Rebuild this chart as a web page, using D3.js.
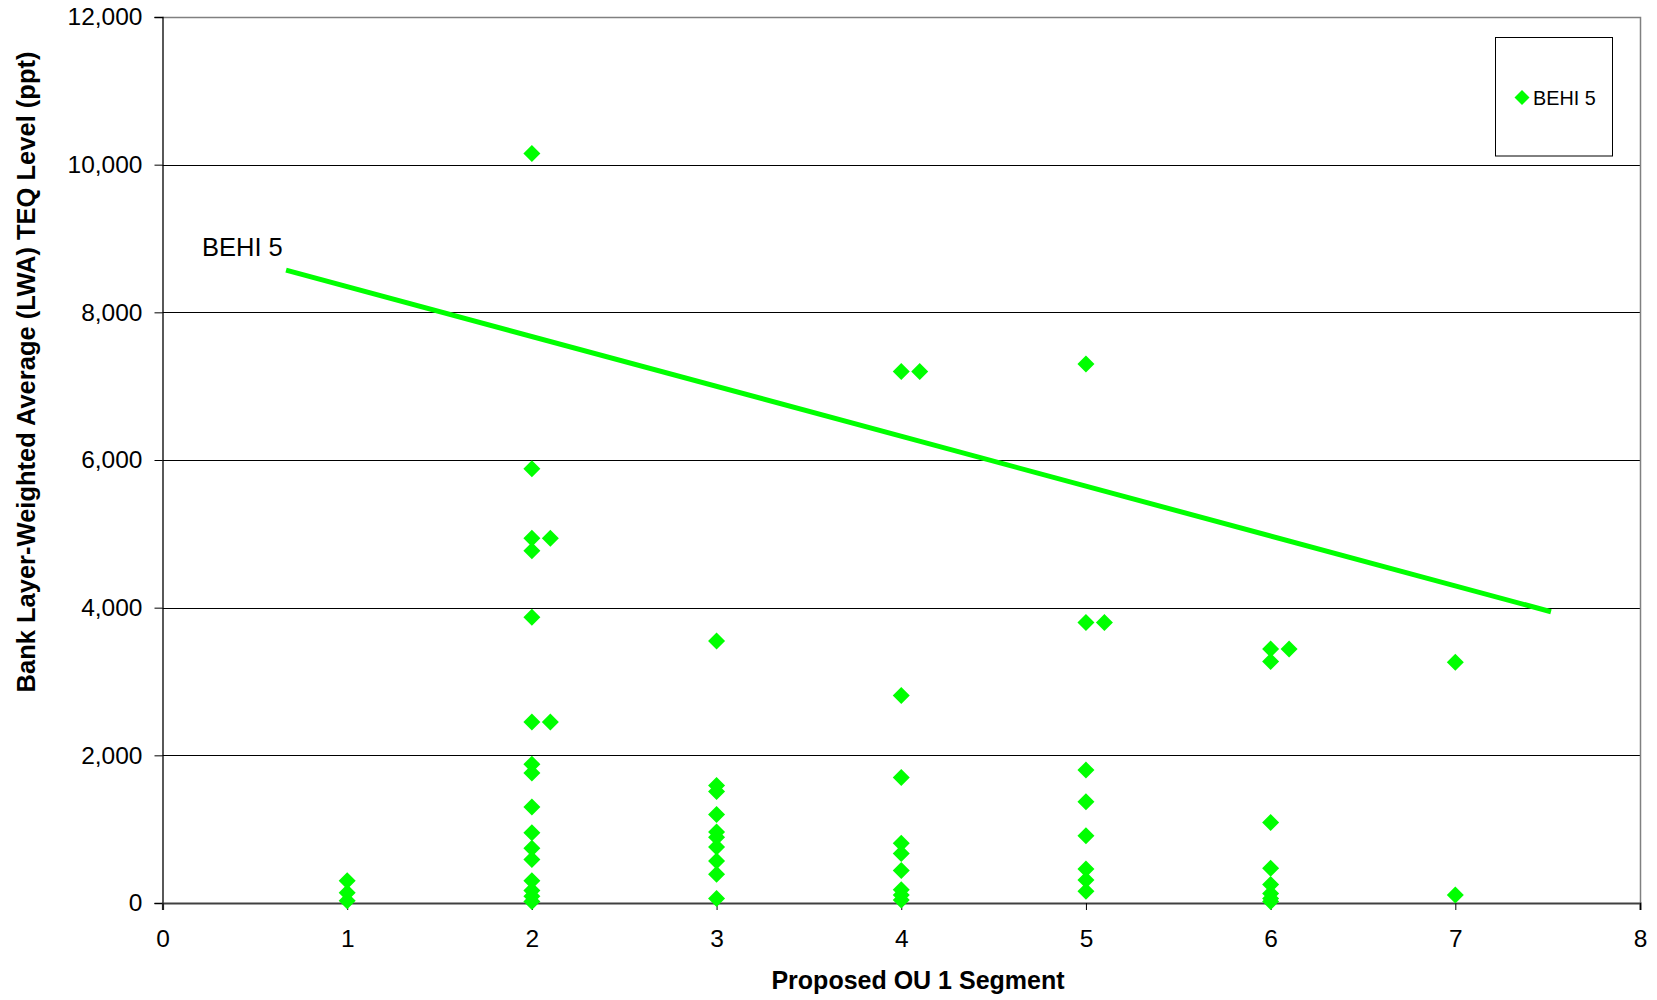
<!DOCTYPE html>
<html>
<head>
<meta charset="utf-8">
<script src="https://cdn.jsdelivr.net/npm/d3@7"></script>
<style>
  html, body { margin: 0; padding: 0; background: #fff; }
  svg { display: block; font-family: Arial, "Liberation Sans", sans-serif; }
</style>
</head>
<body>
<script>
// ---- Data ----
const segments = [1,1,1,
  2,2,2,2,2,2,2,2,2,2,2,2,2,2,2,2,
  2.1,2.1,
  3,3,3,3,3,3,3,3,3,3,
  4,4,4,4,4,4,4,4,4,
  4.1,
  5,5,5,5,5,5,5,5,
  5.1,
  6,6,6,6,6,6,6,6,
  6.1,
  7,7];
const teqValues = [300,140,30,
  10150,5880,4940,4770,3870,2450,1880,1760,1300,950,740,590,300,170,90,20,
  4940,2450,
  3550,1590,1510,1200,960,890,760,570,390,60,
  7200,2810,1700,810,670,440,180,110,40,
  7200,
  7300,3800,1800,1370,910,460,310,160,
  3800,
  3440,3270,1090,470,250,130,60,20,
  3440,
  3260,110];
const trendX = [0.669, 7.518];
const trendY = [8572, 3945];
const xTicks = [0,1,2,3,4,5,6,7,8];
const yTicks = [0,2000,4000,6000,8000,10000,12000];
const seriesName = "BEHI 5";
const xTitle = "Proposed OU 1 Segment";
const yTitle = "Bank Layer-Weighted Average (LWA) TEQ Level (ppt)";

// ---- Layout ----
const W = 1657, H = 1000;
const mLeft = 162.5, mRight = 1640, mTop = 17, mBottom = 903;
const green = "#00ff00";

const svg = d3.select("body").append("svg").attr("width", W).attr("height", H);

const x = d3.scaleLinear().domain([0, 8]).range([mLeft, mRight]);
const y = d3.scaleLinear().domain([0, 12000]).range([mBottom, mTop]);

// gridlines
svg.append("g").selectAll("line").data(yTicks.filter(d => d > 0 && d < 12000)).join("line")
  .attr("x1", mLeft).attr("x2", mRight)
  .attr("y1", d => Math.round(y(d)) + 0.5).attr("y2", d => Math.round(y(d)) + 0.5)
  .attr("stroke", "#000").attr("stroke-width", 1);

// plot border top/right (gray)
svg.append("path")
  .attr("d", `M${mLeft},${Math.round(mTop)+0.5}H${mRight+0.5}V${mBottom}`)
  .attr("fill", "none").attr("stroke", "#808080").attr("stroke-width", 1.5);

// y axis
const yAxis = d3.axisLeft(y).tickValues(yTicks).tickSize(8).tickPadding(12)
  .tickFormat(d3.format(","));
const gy = svg.append("g").attr("transform", `translate(${mLeft},0)`).call(yAxis);
gy.select(".domain").attr("stroke", "#000").attr("stroke-width", 1.3);
gy.selectAll(".tick line").attr("stroke", "#000");
gy.selectAll("text").attr("font-size", 24.5).attr("fill", "#000")
  .attr("font-family", "Arial, 'Liberation Sans', sans-serif");

// x axis
const xAxis = d3.axisBottom(x).tickValues(xTicks).tickSize(7).tickPadding(20)
  .tickFormat(d3.format("d"));
const gx = svg.append("g").attr("transform", `translate(0,${mBottom})`).call(xAxis);
gx.select(".domain").attr("stroke", "#404040").attr("stroke-width", 2.2);
gx.selectAll(".tick line").attr("stroke", "#000");
gx.selectAll("text").attr("font-size", 24.5).attr("fill", "#000")
  .attr("font-family", "Arial, 'Liberation Sans', sans-serif");

// trend line
svg.append("line")
  .attr("x1", x(trendX[0])).attr("y1", y(trendY[0]))
  .attr("x2", x(trendX[1])).attr("y2", y(trendY[1]))
  .attr("stroke", green).attr("stroke-width", 5);

// trend label
svg.append("text").attr("x", 202).attr("y", 256)
  .attr("font-size", 25.5).attr("fill", "#000").text(seriesName);

// points
const diamond = r => `M0,${-r}L${r},0L0,${r}L${-r},0Z`;
svg.append("g").selectAll("path").data(segments.map((s, i) => [s, teqValues[i]])).join("path")
  .attr("d", diamond(8.5))
  .attr("transform", d => `translate(${x(d[0])},${y(d[1])})`)
  .attr("fill", green);

// legend
const lg = svg.append("g");
lg.append("rect").attr("x", 1495.5).attr("y", 37.5).attr("width", 117).attr("height", 118.5)
  .attr("fill", "#fff").attr("stroke", "#000").attr("stroke-width", 1);
lg.append("path").attr("d", diamond(7.5)).attr("transform", "translate(1522,97.5)").attr("fill", green);
lg.append("text").attr("x", 1533).attr("y", 104.5).attr("font-size", 19.8).attr("fill", "#000").text(seriesName);

// axis titles
svg.append("text").attr("x", 918).attr("y", 989).attr("text-anchor", "middle")
  .attr("font-size", 25).attr("font-weight", "bold").attr("fill", "#000").text(xTitle);
svg.append("text").attr("transform", "translate(35,372) rotate(-90)").attr("text-anchor", "middle")
  .attr("font-size", 25.5).attr("font-weight", "bold").attr("fill", "#000").text(yTitle);
</script>
</body>
</html>
